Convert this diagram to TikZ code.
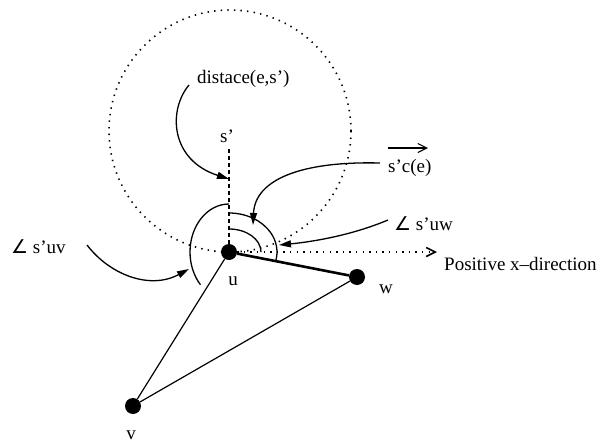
\documentclass[tikz,border=0pt]{standalone}
\usepackage{fontspec}
\setmainfont{Liberation Serif}
\newfontfamily\angfont{DejaVu Sans}
\usetikzlibrary{arrows.meta}
\begin{document}
\begin{tikzpicture}[x=1pt,y=1pt,
  dot/.style={circle,fill=black,inner sep=0pt,minimum size=16pt},
  lbl/.style={inner sep=0pt,font=\fontsize{19}{22}\selectfont},
  edge/.style={line width=1.2pt},
  thickedge/.style={line width=2.6pt},
  anglearc/.style={line width=1.3pt},
  pointer/.style={line width=1.3pt,-{Triangle[length=12pt,width=7pt]}},
  dotline/.style={line width=1.6pt,dash pattern=on 1.4pt off 5.2pt},
  dashline/.style={line width=1.2pt,dash pattern=on 4pt off 3pt},
  barb/.style={-{Straight Barb[length=9pt,width=9pt]}},
]
\useasboundingbox (0,0) rectangle (603,-442);

% vertices
\node[dot] (u) at (229,-252) {};
\node[dot] (w) at (357,-277) {};
\node[dot] (v) at (133,-406) {};

% edges
\draw[thickedge] (u) -- (w);
\draw[edge] (u) -- (v);
\draw[edge] (v) -- (w);

% dotted circle
\draw[dotline] (230,-131) circle[radius=121];

% dashed s' line and x-direction
\coordinate (sTop) at (229,-148);
\coordinate (xEnd) at (437,-252);
\draw[dashline] (u) -- (sTop);
\draw[dotline,barb] (u) -- (xEnd);

% angle arcs
\draw[anglearc] (u.center) ++(0,23) arc[start angle=90,end angle=0,x radius=32,y radius=23];
\draw[anglearc] (u.center) ++(0,39) arc[start angle=90,end angle=-14,x radius=48,y radius=39];
\draw[anglearc] (u.center) ++(0,48) arc[start angle=90,end angle=223,x radius=39,y radius=48];

% labels
\node[lbl,anchor=base west] (dist) at (197,-83) {distace(e,s')};
\node[lbl,anchor=base] (slab) at (227,-142) {s'};
\node[lbl,anchor=base west] (sce) at (388,-172) {s'c(e)};
\node[lbl,anchor=base west] (suw) at (394,-230) {{\angfont ∠} s'uw};
\node[lbl,anchor=base west] (posx) at (444,-270) {Positive x--direction};
\node[lbl,anchor=base west] (suv) at (11,-253) {{\angfont ∠} s'uv};
\node[lbl,anchor=base] (ulab) at (233,-285) {u};
\node[lbl,anchor=base] (wlab) at (386,-293) {w};
\node[lbl,anchor=base] (vlab) at (131,-439) {v};

% vector arrow above s'c(e)
\coordinate (vecA) at (388,-148);
\coordinate (vecB) at (428,-148);
\draw[line width=1.1pt,barb] (vecA) -- (vecB);

% pointers
\coordinate (p1s) at (189,-85);  \coordinate (p1e) at (229,-179);
\coordinate (p2s) at (380,-163); \coordinate (p2e) at (253,-225);
\coordinate (p3s) at (388,-220); \coordinate (p3e) at (279,-245);
\coordinate (p4s) at (87,-245);  \coordinate (p4e) at (189,-269);
\draw[pointer] (p1s) .. controls (168,-110) and (170,-160) .. (p1e);
\draw[pointer] (p2s) .. controls (300,-161) and (255,-180) .. (p2e);
\draw[pointer] (p3s) .. controls (350,-236) and (310,-242) .. (p3e);
\draw[pointer] (p4s) .. controls (110,-275) and (150,-290) .. (p4e);
\end{tikzpicture}
\end{document}
